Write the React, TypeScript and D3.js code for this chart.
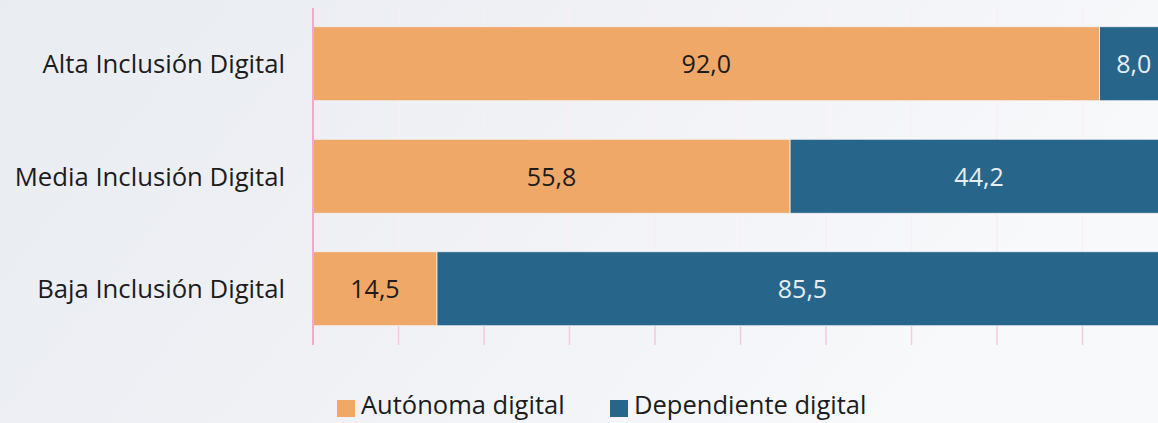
import React from "react";
import * as d3 from "d3";

const categories = ["Alta Inclusión Digital", "Media Inclusión Digital", "Baja Inclusión Digital"];
const autonoma = [92.0, 55.8, 14.5];
const dependiente = [8.0, 44.2, 85.5];
const seriesNames = ["Autónoma digital", "Dependiente digital"];
const seriesColors = ["#F0A869", "#27668A"];
const labelColors = ["#1c1c1c", "#e6eef4"];
const ticks = [0, 10, 20, 30, 40, 50, 60, 70, 80, 90, 100];

const W = 1158;
const H = 423;
const FONT = "'Open Sans', sans-serif";

export default function App() {
  const x = d3.scaleLinear().domain([0, 100]).range([313, 1168]);
  const y = d3
    .scaleBand<string>()
    .domain(categories)
    .range([7.5, 345])
    .paddingInner(0.342)
    .paddingOuter(0.171);
  const fmt = (v: number) => v.toFixed(1).replace(".", ",");
  const rows = categories.map((c, i) => ({ c, vals: [autonoma[i], dependiente[i]] }));
  const yBottom = 345;
  const barBottom = (y(categories[2]) ?? 0) + y.bandwidth();

  return (
    <svg width={W} height={H} style={{ position: "absolute", left: 0, top: 0 }}>
      <defs>
        <linearGradient id="bg" x1="0" y1="0" x2="1" y2="0.3">
          <stop offset="0" stopColor="#e9ecf1" />
          <stop offset="0.5" stopColor="#eff1f5" />
          <stop offset="1" stopColor="#f8f9fb" />
        </linearGradient>
      </defs>
      <rect x={0} y={0} width={W} height={H} fill="url(#bg)" />
      {ticks.map((t) => (
        <line key={"g" + t} x1={x(t)} x2={x(t)} y1={8} y2={barBottom} stroke="#fdedf4" strokeWidth={1.5} />
      ))}
      {ticks.map((t) => (
        <line key={"t" + t} x1={x(t)} x2={x(t)} y1={barBottom} y2={yBottom} stroke="#f7c9dc" strokeWidth={1.5} />
      ))}
      {rows.map((r) => {
        let acc = 0;
        const by = y(r.c) ?? 0;
        const bh = y.bandwidth();
        return (
          <g key={r.c}>
            {r.vals.map((v, j) => {
              const x0 = x(acc);
              acc += v;
              const x1 = x(acc);
              return (
                <g key={j}>
                  <rect x={x0} y={by} width={x1 - x0} height={bh} fill={seriesColors[j]} stroke="#f4f4f6" strokeWidth={0.8} />
                  <text
                    x={(x0 + x1) / 2}
                    y={by + bh / 2}
                    dy="0.38em"
                    textAnchor="middle"
                    fontFamily={FONT}
                    fontSize={25}
                    fill={labelColors[j]}
                  >
                    {fmt(v)}
                  </text>
                </g>
              );
            })}
            <text
              x={285}
              y={by + bh / 2}
              dy="0.37em"
              textAnchor="end"
              fontFamily={FONT}
              fontSize={25.7}
              fill="#1c1c1c"
            >
              {r.c}
            </text>
          </g>
        );
      })}
      <line x1={x(0)} x2={x(0)} y1={8} y2={yBottom} stroke="#f5a9c8" strokeWidth={2} />
      {seriesNames.map((s, i) => {
        const lx = [337, 610][i];
        return (
          <g key={s}>
            <rect x={lx} y={400} width={18} height={17} fill={seriesColors[i]} />
            <text x={lx + 24} y={414} fontFamily={FONT} fontSize={25.5} fill="#1c1c1c">
              {s}
            </text>
          </g>
        );
      })}
    </svg>
  );
}
